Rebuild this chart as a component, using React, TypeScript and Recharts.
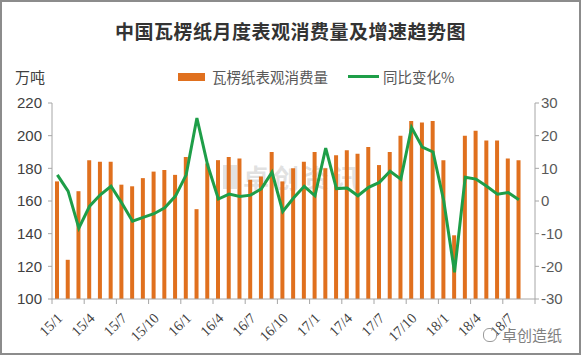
import { ComposedChart, Bar, Line, XAxis, YAxis } from 'recharts';

const months = [
  '15/1', '15/2', '15/3', '15/4', '15/5', '15/6', '15/7', '15/8', '15/9', '15/10', '15/11', '15/12',
  '16/1', '16/2', '16/3', '16/4', '16/5', '16/6', '16/7', '16/8', '16/9', '16/10', '16/11', '16/12',
  '17/1', '17/2', '17/3', '17/4', '17/5', '17/6', '17/7', '17/8', '17/9', '17/10', '17/11', '17/12',
  '18/1', '18/2', '18/3', '18/4', '18/5', '18/6', '18/7', '18/8', '18/9',
];

// 瓦楞纸表观消费量 (万吨)
const consumption = [
  172, 124, 166, 185, 184, 184, 170, 169, 174, 178, 179, 176,
  187, 155, 183, 185, 187, 186, 173, 175, 190, 172, 180, 184,
  190, 180, 188, 191, 189, 193, 182, 190, 200, 209, 208, 209,
  185, 139, 200, 203, 197, 197, 186, 185, null,
];

// 同比变化 %
const yoy = [
  8, 3, -8.3, -1.6, 1.9, 4.5, -0.6, -6.2, -5, -3.9, -2.1, 1.5,
  8, 25.4, 11, 0.6, 2.1, 1.4, 1.8, 3.7, 8.8, -3.2, 0.9, 4.5,
  1.6, 16.2, 3.8, 4, 1.6, 4.2, 5.7, 9.1, 6.7, 22.5, 16.5, 15,
  0, -21.8, 7.3, 6.7, 4.5, 2.1, 2.6, 0.4, null,
];

const leftTicks = [100, 120, 140, 160, 180, 200, 220];
const rightTicks = [-30, -20, -10, 0, 10, 20, 30];

const data = months.map((m, i) => ({ month: m, consumption: consumption[i], yoy: yoy[i] }));

const W = 581;
const H = 355;
const LEFT_W = 52;
const RIGHT_W = 46;
const BAND = (W - LEFT_W - RIGHT_W) / months.length;
const AXIS_COLOR = '#a6a6a6';
const BAR_COLOR = '#E0701E';
const LINE_COLOR = '#1E9E48';
const CJK = '"Noto Sans CJK SC", sans-serif';

const XTick = (props: any) => {
  const { x, y, payload } = props;
  const left = x - BAND / 2;
  const isLast = payload.value === months[months.length - 3];
  const ax = x + 6;
  const ay = y + 20;
  return (
    <g>
      <line x1={left} x2={left} y1={y} y2={y + 5} stroke={AXIS_COLOR} />
      {isLast && (
        <line x1={x + BAND * 2.5} x2={x + BAND * 2.5} y1={y} y2={y + 5} stroke={AXIS_COLOR} />
      )}
      <text
        x={ax}
        y={ay}
        textAnchor="end"
        transform={`rotate(-45, ${ax}, ${ay})`}
        fontSize={14.5}
        fontFamily='"Liberation Serif", serif'
        fill="#404040"
      >
        {payload.value}
      </text>
    </g>
  );
};

export default function App() {
  return (
    <div style={{ position: 'relative', width: W, height: H, background: '#fff' }}>
      <style>{'body{margin:0}'}</style>
      <div
        style={{
          position: 'absolute', left: 223, top: 158, display: 'flex', alignItems: 'center',
          fontFamily: CJK, fontSize: 26, letterSpacing: 4, color: 'rgba(150,150,150,0.28)', fontWeight: 700,
        }}
      >
        <span style={{ display: 'inline-block', width: 14, height: 24, background: 'rgba(150,150,150,0.28)', marginRight: 6 }} />
        卓创资讯
      </div>
      <div style={{ position: 'absolute', left: 0, top: 0 }}>
        <ComposedChart width={W} height={H} data={data} margin={{ top: 103, right: 0, bottom: 0, left: 0 }}>
          <XAxis
            dataKey="month"
            interval={2}
            tickLine={false}
            tickSize={0}
            tickMargin={0}
            height={56}
            axisLine={{ stroke: AXIS_COLOR }}
            tick={<XTick />}
          />
          <YAxis
            yAxisId="left"
            width={LEFT_W}
            domain={[100, 220]}
            ticks={leftTicks}
            tickSize={4}
            tickMargin={6}
            axisLine={{ stroke: AXIS_COLOR }}
            tickLine={{ stroke: AXIS_COLOR }}
            tick={{ fill: '#404040', fontSize: 15, fontFamily: '"Liberation Sans", sans-serif' }}
          />
          <YAxis
            yAxisId="right"
            orientation="right"
            width={RIGHT_W}
            domain={[-30, 30]}
            ticks={rightTicks}
            tickSize={4}
            tickMargin={2}
            axisLine={{ stroke: AXIS_COLOR }}
            tickLine={{ stroke: AXIS_COLOR }}
            tick={{ fill: '#595959', fontSize: 15, fontFamily: '"Liberation Sans", sans-serif' }}
          />
          <Bar yAxisId="left" dataKey="consumption" fill={BAR_COLOR} barSize={4} isAnimationActive={false} />
          <Line
            yAxisId="right"
            type="linear"
            dataKey="yoy"
            stroke={LINE_COLOR}
            strokeWidth={3}
            dot={false}
            isAnimationActive={false}
          />
        </ComposedChart>
      </div>
      <div
        style={{
          position: 'absolute', left: 0, width: W, top: 17, textAlign: 'center',
          fontFamily: CJK, fontSize: 19, fontWeight: 600, color: '#333', letterSpacing: 0.5,
        }}
      >
        中国瓦楞纸月度表观消费量及增速趋势图
      </div>
      <div style={{ position: 'absolute', left: 15, top: 66, fontFamily: CJK, fontSize: 15, color: '#404040' }}>
        万吨
      </div>
      <div
        style={{
          position: 'absolute', left: 178, top: 66, display: 'flex', alignItems: 'center',
          fontFamily: CJK, fontSize: 14.5, color: '#595959',
        }}
      >
        <span style={{ display: 'inline-block', width: 27, height: 8, background: BAR_COLOR, marginRight: 7 }} />
        <span>瓦楞纸表观消费量</span>
        <span style={{ display: 'inline-block', width: 31, height: 3, background: LINE_COLOR, margin: '0 4px 0 20px' }} />
        <span>同比变化%</span>
      </div>
      <div
        style={{
          position: 'absolute', left: 483, top: 324, display: 'flex', alignItems: 'center',
          fontFamily: CJK, fontSize: 15, color: '#7f7f7f',
        }}
      >
        <span
          style={{
            display: 'inline-block', width: 12, height: 12, borderRadius: 6,
            border: '1.5px solid #9a9a9a', marginRight: 5,
          }}
        />
        <span>卓创造纸</span>
      </div>
      <div
        style={{
          position: 'absolute', left: 0, top: 0, width: W, height: H, boxSizing: 'border-box',
          border: '2px solid #8c8c8c', pointerEvents: 'none',
        }}
      />
    </div>
  );
}
